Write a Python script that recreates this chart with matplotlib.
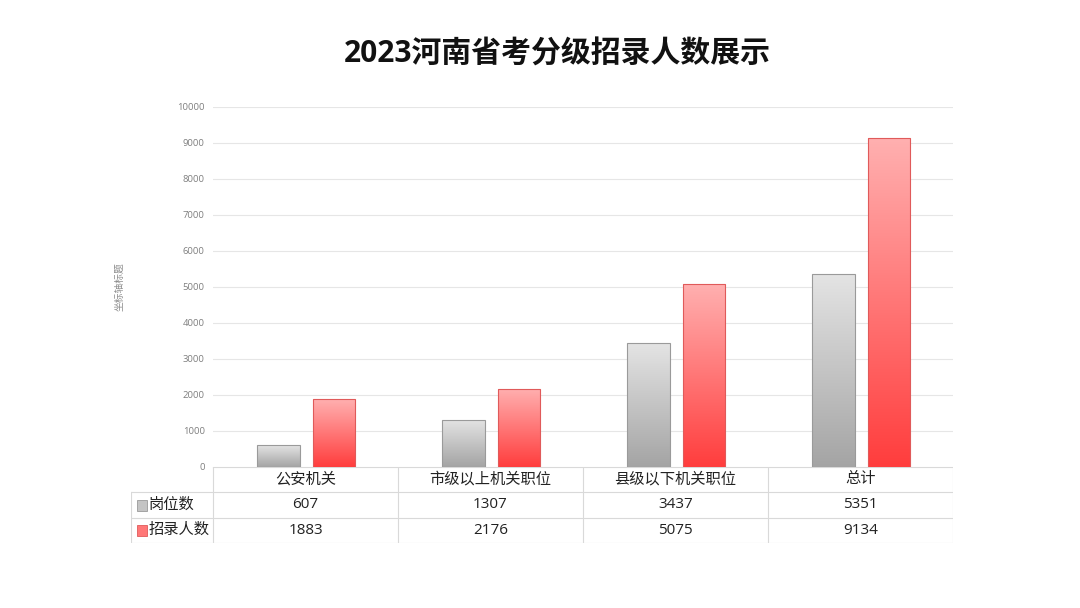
import numpy as np
import matplotlib.pyplot as plt
from matplotlib.colors import LinearSegmentedColormap
from matplotlib.patches import Rectangle

plt.rcParams["font.family"] = ["Open Sans", "Noto Sans CJK SC", "DejaVu Sans"]

# data
categories = ["公安机关", "市级以上机关职位", "县级以下机关职位", "总计"]
series_names = ["岗位数", "招录人数"]
posts = [607, 1307, 3437, 5351]
recruits = [1883, 2176, 5075, 9134]
y_ticks = [0, 1000, 2000, 3000, 4000, 5000, 6000, 7000, 8000, 9000, 10000]

W, H = 1080, 608
fig = plt.figure(figsize=(W / 100, H / 100), dpi=100)

gray_cmap = LinearSegmentedColormap.from_list("g", ["#a4a4a4", "#e4e4e4"])
red_cmap = LinearSegmentedColormap.from_list("r", ["#ff3d3d", "#ffb0b0"])
cmaps = [gray_cmap, red_cmap]
edges = ["#9a9a9a", "#e05a5a"]

ax = fig.add_axes([213 / W, 1 - 467 / H, 740 / W, 360 / H])
ax.set_xlim(-0.5, len(categories) - 0.5)
ax.set_ylim(0, 10000)
ax.set_yticks(y_ticks)
ax.set_yticklabels([str(t) for t in y_ticks], fontsize=6.8, color="#7f7f7f")
ax.tick_params(axis="y", length=0, pad=6)
ax.set_xticks([])
for s in ax.spines.values():
    s.set_visible(False)
ax.grid(axis="y", color="#e6e6e6", linewidth=0.8)
ax.set_axisbelow(True)
ax.set_ylabel("坐标轴标题", fontsize=7, color="#8c8c8c", labelpad=37)

x = np.arange(len(categories))
offsets = [-0.145, 0.155]
bw = 0.23
grad = np.linspace(0, 1, 256).reshape(-1, 1)
for k, vals in enumerate([posts, recruits]):
    bars = ax.bar(x + offsets[k], vals, bw, color="none", edgecolor=edges[k], linewidth=0.8, zorder=3)
    for b in bars:
        x0, y0, w, h = b.get_x(), b.get_y(), b.get_width(), b.get_height()
        im = ax.imshow(grad, cmap=cmaps[k], aspect="auto", origin="lower",
                       extent=[x0, x0 + w, y0, y0 + h], zorder=2)
        im.set_clip_path(b)
ax.set_xlim(-0.5, len(categories) - 0.5)
ax.set_ylim(0, 10000)

# data table below the plot
tab = fig.add_axes([131 / W, 1 - 543 / H, 822 / W, 76 / H])
left = -0.5 - 82 / 185
tab.set_xlim(left, len(categories) - 0.5)
tab.set_ylim(3, 0)
tab.axis("off")
lc = "#d9d9d9"
tab.plot([-0.5, 3.5], [0, 0], color=lc, lw=0.8)
for r in [1, 2, 3]:
    tab.plot([left, 3.5], [r, r], color=lc, lw=0.8)
tab.plot([left, left], [1, 3], color=lc, lw=0.8)
for c in range(len(categories) + 1):
    tab.plot([c - 0.5, c - 0.5], [0, 3], color=lc, lw=0.8)
for i, cat in enumerate(categories):
    tab.text(i, 0.5, cat, ha="center", va="center", fontsize=11, color="#222222")
    tab.text(i, 1.5, str(posts[i]), ha="center", va="center", fontsize=11, color="#222222")
    tab.text(i, 2.5, str(recruits[i]), ha="center", va="center", fontsize=11, color="#222222")
for r, name in enumerate(series_names):
    sq = Rectangle((left + 0.035, r + 1.3), 0.05, 0.42, facecolor=cmaps[r](0.5),
                   edgecolor=edges[r], lw=0.6)
    tab.add_patch(sq)
    tab.text(left + 0.095, r + 1.5, name, ha="left", va="center", fontsize=11, color="#222222")

fig.text(557 / W, 1 - 55 / H, "2023河南省考分级招录人数展示", ha="center", va="center",
         fontsize=21.5, fontweight="bold", color="#111111")

fig.savefig("out.png", dpi=100, facecolor="white")
